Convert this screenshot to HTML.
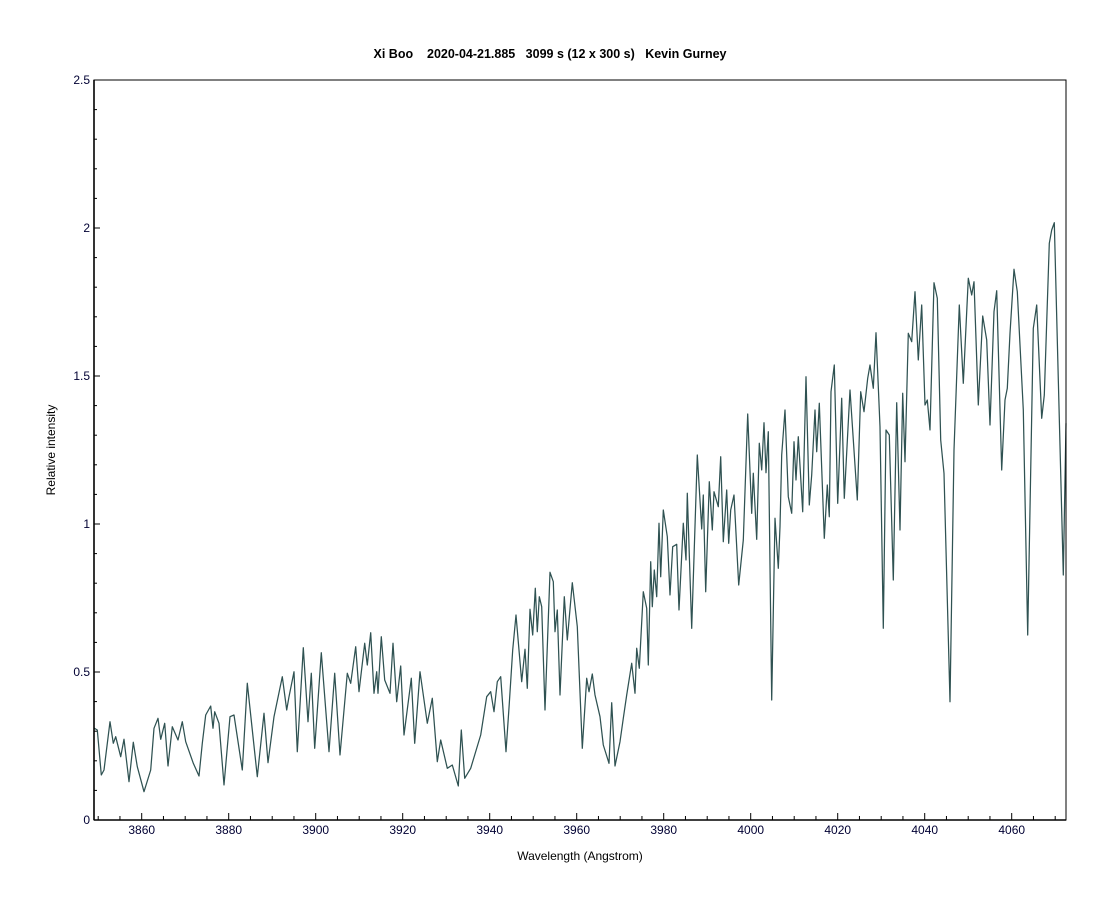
<!DOCTYPE html>
<html><head><meta charset="utf-8"><style>
html,body{margin:0;padding:0;background:#fff;}
svg{display:block;font-family:"Liberation Sans",Arial,sans-serif;}
</style></head><body>
<svg id="s" width="1100" height="900" viewBox="0 0 1100 900" xmlns="http://www.w3.org/2000/svg">
<rect width="1100" height="900" fill="#fff"/>
<text x="550" y="58" text-anchor="middle" font-size="12.5" font-weight="bold" fill="#000" xml:space="preserve" style="white-space:pre">Xi Boo    2020-04-21.885   3099 s (12 x 300 s)   Kevin Gurney</text>
<text x="580" y="860" text-anchor="middle" font-size="12" fill="#000">Wavelength (Angstrom)</text>
<text transform="translate(55,450) rotate(-90)" text-anchor="middle" font-size="12" fill="#000">Relative intensity</text>
<g id="ticks" stroke="#000" stroke-width="1"></g>
<g id="labels" font-size="12" fill="#000033"></g>
<polyline fill="none" stroke="#2f5252" stroke-width="1.25" stroke-linejoin="round" points="
94,728 97.3,730 101.3,775 104,770 110,721.7 113.3,743.3 115.7,736.7 120.7,756.7 124,739.3 129,781.7 133.3,742.3 137.3,766.7 144,791.7 150.7,770 154,728.3 158,718.3 160.7,739.3 164.7,723.3 168,766 172.3,726.7 178,740 182.3,721.7 185.7,741.7 193.3,763.3 199,776 202.3,743.3 205.7,715 210.7,706 213,728.3 214.7,711.7 219,723.3 224,785 230,716.7 234,715 242.3,770 247.3,683.3 252.3,730 257.3,776.7 264,713.3 268,762.7 274,716.7 282.3,676.7 286.7,710 289,696.7 294,671.7 297.3,751.7 303.3,647.7 308,721.7 311.3,673.3 314.7,748.3 321.3,652.7 329,751.7 334.7,673.3 340,755 347.3,673.3 350.7,683.3 355.7,646.7 359,691.7 364.7,643.3 367.3,665 370.7,632.7 374,693.3 376.7,671.7 378,693.3 381.3,636.7 384.7,680 390,693.3 393,643.3 396.7,701.7 400.7,666 404,735 411.3,678.3 414.7,743.3 420,671.7 427.3,723.3 432.3,698.3 437.3,761.7 440.7,740 447.3,768.3 452.3,765 458.3,786 461.3,730 464.7,778.3 470.7,768.3 480.7,735 486.7,696.7 490.7,691.7 494,711.7
497.3,681.7 500.7,676.7 506,751.7 509.3,703.3 512.7,650 516,615 521.7,681.7 525,649.3 527.3,688.3 530,609.3 532.7,635 535.3,588.3 537.3,631.7 539.3,596.7 541.7,606.7 545,710 550,572.3 553.3,581.7 555,631.7 557.3,610 560,695 564.3,596.7 567.3,640 572.3,582.7 577.3,626.7 582.3,748.3 586.7,678.3 589,691.7 592.3,674 595,695 600,716.7 603.3,745 609,763.3 611.7,702.7 615,766 620,741.7 623.3,718.3 626.7,695 631.7,663.3 635,693.3 636.7,648.3 639.3,668.3 643.3,591.7 646.7,608.3 648.3,665 650.7,561.7 652.3,606.7 654.3,570 656.7,596.7 659,523.3 660.7,576.7 663.3,510 667.3,536.7 670,595 672.7,546.7 676.7,544.3 679,610 683.3,523.3 686,560 687.3,493.3 691.7,628.3 697.3,455 701.7,529 703.3,495 705.7,591.7 709.3,481.7 712.3,530 714,491.7 718.3,506.7 720.7,456.7 723.3,541.7 726.7,490 728.7,543.3 730.7,510 734,495 738.7,585 743.3,540 747.7,414 751.7,513.3 753.3,473.3 756.7,539.3 759.3,443.3 761.7,470 764,422.7 766,472.7 768.3,431.7 771.7,700 775,518.3 778.3,568.3 780,526.7
781.7,455 785,410 788.3,496.7 791.7,513.3 794,441.7 796,480 798.3,436.7 802.7,511.7 806,376.7 809.3,505 811.7,475 815,410 816.7,451.7 819.3,403.3 824.3,538.3 827.3,485 829.3,516.7 831,391.7 834.3,365 837.7,503.3 841.7,398.3 844.3,498.3 850,390 857.3,500 860.7,391.7 864,411.7 867.7,378.3 870,365 873.3,388.3 876,332.7 880,426.7 883.3,628.3 886,430 889.3,435 893.3,580 896.7,402.7 900,530 902.7,393.3 905,461.7 908.3,333.3 911.7,341.7 915,291.7 918.3,360 921.7,305 925,405 927.3,400 930,430 934,282.7 937.3,298.3 940.7,440 944,473.3 950,701.7 954,450 959.3,305 963.3,383.3 968.3,278.3 971.7,295 974,281.7 978.3,405 982.7,316 986.7,340 990,425 994,311.7 996.7,290.7 1001.7,470 1005,400 1007.3,388.3 1010,333.3 1014,269.3 1017.3,291.7 1023.3,410 1027.7,635 1033.3,328.3 1036.7,305 1041.7,418.3 1044.3,395 1049.3,243.3 1051.7,230 1054.3,222.7 1063.3,575 1066,423.3"/>
<rect x="94" y="80" width="972" height="740" fill="none" stroke="#000" stroke-width="1"/>
<line x1="94" y1="820" x2="1066" y2="820" stroke="#000" stroke-width="1.6"/>
<line x1="94" y1="80" x2="94" y2="820" stroke="#000" stroke-width="1.6"/>
</svg>
<script>
var NS="http://www.w3.org/2000/svg",t=document.getElementById("ticks"),l=document.getElementById("labels");
function ln(a,b,c,d){var e=document.createElementNS(NS,"line");e.setAttribute("x1",a);e.setAttribute("y1",b);e.setAttribute("x2",c);e.setAttribute("y2",d);t.appendChild(e);}
function tx(x,y,s,an){var e=document.createElementNS(NS,"text");e.setAttribute("x",x);e.setAttribute("y",y);e.setAttribute("text-anchor",an);e.textContent=s;l.appendChild(e);}
for(var w=3850;w<=4070;w+=5){var x=141.7+(w-3860)*4.35;if(x<94||x>1066)continue;var maj=(w%20==0);ln(x,820,x,maj?813:816);if(maj)tx(x,834,String(w),"middle");}
for(var i=1;i<25;i++){var y=820-29.6*i;var maj=(i%5==0);ln(94,y,maj?100:97,y);}
var lab=["0","0.5","1","1.5","2","2.5"];
for(var k=0;k<6;k++){tx(90,820-148*k+4,lab[k],"end");}
</script>
</body></html>
